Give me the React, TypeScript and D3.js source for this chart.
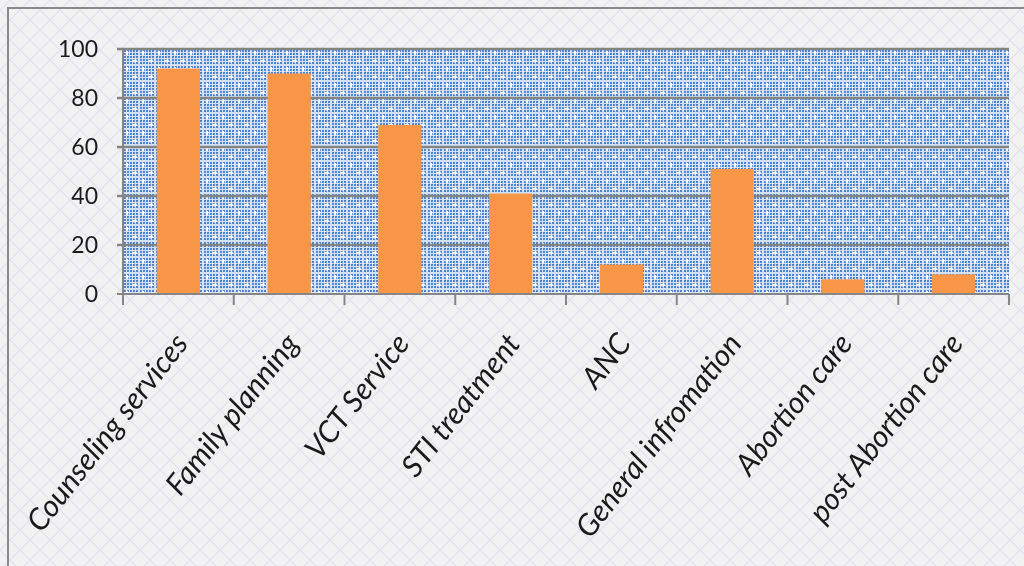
import React, { useEffect, useRef } from "react";
import * as d3 from "d3";

const categories = [
  "Counseling services",
  "Family planning",
  "VCT Service",
  "STI treatment",
  "ANC",
  "General infromation",
  "Abortion care",
  "post Abortion care",
];
const values = [92, 90, 69, 41, 12, 51, 6, 8];
const yTicks = [0, 20, 40, 60, 80, 100];

const width = 1024;
const height = 566;

const App: React.FC = () => {
  const svgRef = useRef<SVGSVGElement | null>(null);

  useEffect(() => {
    const margin = { top: 49, right: 15, bottom: 272, left: 123 };
    const innerWidth = width - margin.left - margin.right;
    const innerHeight = height - margin.top - margin.bottom;

    d3.select(svgRef.current).selectAll("*").remove();
    const svg = d3.select(svgRef.current).attr("width", width).attr("height", height);

    // patterns
    const defs = svg.append("defs");
    const bg = defs
      .append("pattern")
      .attr("id", "bgPat")
      .attr("width", 20)
      .attr("height", 20)
      .attr("patternUnits", "userSpaceOnUse");
    bg.append("rect").attr("width", 20).attr("height", 20).attr("fill", "#f2f2f3");
    bg.append("path")
      .attr("d", "M0,10 L10,0 L20,10 L10,20 Z")
      .attr("fill", "none")
      .attr("stroke", "#e4e0ee")
      .attr("stroke-width", 1.2);

    const pp = defs
      .append("pattern")
      .attr("id", "plotPat")
      .attr("width", 16)
      .attr("height", 16)
      .attr("patternUnits", "userSpaceOnUse");
    pp.append("rect").attr("width", 16).attr("height", 16).attr("fill", "#4f82cf");
    for (let i = 0; i < 16; i += 3) {
      pp.append("rect").attr("x", i).attr("y", 0).attr("width", 1).attr("height", 16).attr("fill", "#d6e2f4");
      pp.append("rect").attr("x", 0).attr("y", i).attr("width", 16).attr("height", 1).attr("fill", "#d6e2f4");
    }
    pp.append("ellipse").attr("cx", 4).attr("cy", 4).attr("rx", 1.4).attr("ry", 2.2).attr("fill", "#ffffff");
    pp.append("ellipse").attr("cx", 12).attr("cy", 12).attr("rx", 2.2).attr("ry", 1.4).attr("fill", "#ffffff");

    // chart background + border
    svg.append("rect").attr("x", 0).attr("y", 0).attr("width", width).attr("height", height).attr("fill", "url(#bgPat)");
    svg.append("rect")
      .attr("x", 8)
      .attr("y", 8)
      .attr("width", width + 20)
      .attr("height", height + 20)
      .attr("fill", "none")
      .attr("stroke", "#8a8a8a")
      .attr("stroke-width", 2);

    const g = svg.append("g").attr("transform", `translate(${margin.left},${margin.top})`);

    const x = d3.scaleBand<string>().domain(categories).range([0, innerWidth]).paddingInner(0.61).paddingOuter(0.305);
    const xGrid = d3.scaleBand<string>().domain(categories).range([0, innerWidth]);
    const y = d3.scaleLinear().domain([0, 100]).range([innerHeight, 0]);

    g.append("rect").attr("width", innerWidth).attr("height", innerHeight).attr("fill", "url(#plotPat)");

    // gridlines
    g.selectAll(".grid")
      .data(yTicks.filter((t) => t > 0))
      .join("line")
      .attr("x1", -6)
      .attr("x2", innerWidth)
      .attr("y1", (d) => y(d))
      .attr("y2", (d) => y(d))
      .attr("stroke", "#848484")
      .attr("stroke-width", 2.5);

    // bars
    g.selectAll(".bar")
      .data(values)
      .join("rect")
      .attr("x", (_d, i) => x(categories[i])!)
      .attr("width", x.bandwidth())
      .attr("y", (d) => y(d))
      .attr("height", (d) => innerHeight - y(d))
      .attr("fill", "#f79646");

    // y axis
    g.append("line").attr("x1", 0).attr("x2", 0).attr("y1", 0).attr("y2", innerHeight).attr("stroke", "#868686").attr("stroke-width", 2);
    g.append("line").attr("x1", -6).attr("x2", 0).attr("y1", innerHeight).attr("y2", innerHeight).attr("stroke", "#868686").attr("stroke-width", 2);
    g.selectAll(".ylab")
      .data(yTicks)
      .join("text")
      .attr("x", -25)
      .attr("y", (d) => y(d))
      .attr("dy", "0.36em")
      .attr("text-anchor", "end")
      .attr("font-family", "Lato, sans-serif")
      .attr("font-size", 23)
      .attr("fill", "#1a1a1a")
      .text((d) => d);

    // x axis
    g.append("line").attr("x1", 0).attr("x2", innerWidth).attr("y1", innerHeight).attr("y2", innerHeight).attr("stroke", "#868686").attr("stroke-width", 2);
    const tickXs = categories.map((c) => xGrid(c)!).concat([innerWidth]);
    g.selectAll(".xtick")
      .data(tickXs)
      .join("line")
      .attr("x1", (d) => d)
      .attr("x2", (d) => d)
      .attr("y1", innerHeight)
      .attr("y2", innerHeight + 11)
      .attr("stroke", "#868686")
      .attr("stroke-width", 2);

    g.selectAll(".xlab")
      .data(categories)
      .join("text")
      .attr("transform", (d) => `translate(${xGrid(d)! + xGrid.bandwidth() / 2 + 11},${innerHeight + 50}) rotate(-52)`)
      .attr("text-anchor", "end")
      .attr("font-family", "Lato, sans-serif")
      .attr("font-style", "italic")
      .attr("font-size", 30)
      .attr("fill", "#1a1a1a")
      .text((d) => d);
  }, []);

  return (
    <div style={{ position: "fixed", left: 0, top: 0 }}>
      <svg ref={svgRef}></svg>
    </div>
  );
};

export default App;
